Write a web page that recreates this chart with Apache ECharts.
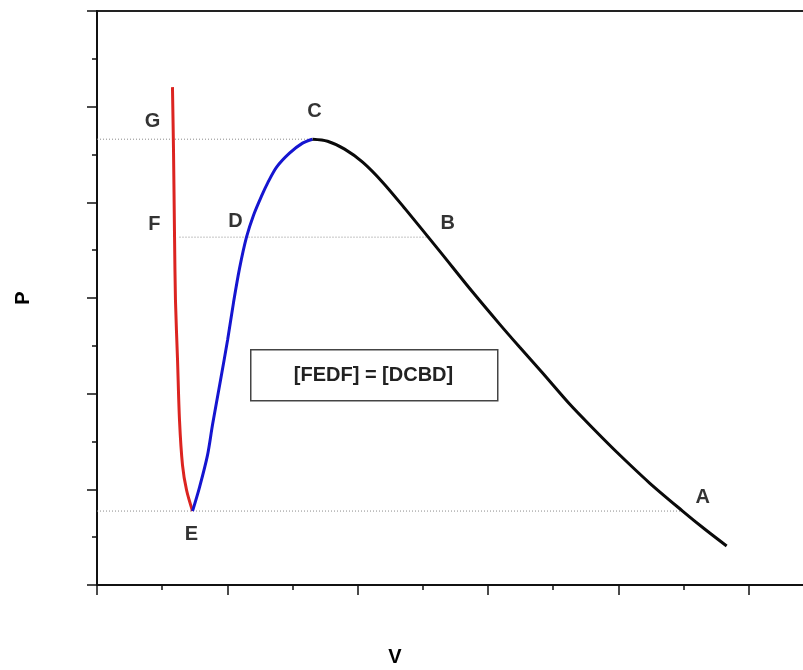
<!DOCTYPE html>
<html>
<head>
<meta charset="utf-8">
<script src="https://cdn.jsdelivr.net/npm/echarts@6/dist/echarts.min.js"></script>
<style>html,body{margin:0;padding:0;background:#fff;overflow:hidden;width:803px;height:670px}#c{width:880px;height:670px}</style>
</head>
<body>
<div id="c"></div>
<script>
// Branch G-F-E (red)
const redBranch = [[0.579,5.204],[0.587,4.545],[0.595,3.636],[0.602,2.978],[0.618,2.351],[0.633,1.724],[0.656,1.254],[0.687,0.993],[0.733,0.773]];
// Branch E-D-C (blue)
const blueBranch = [[0.733,0.773],[0.787,1.024],[0.848,1.358],[0.886,1.672],[0.948,2.142],[1.002,2.560],[1.048,2.957],[1.094,3.312],[1.147,3.636],[1.201,3.866],[1.262,4.065],[1.309,4.201],[1.378,4.368],[1.477,4.514],[1.577,4.619],[1.654,4.660]];
// Branch C-B-A (black)
const blackBranch = [[1.654,4.660],[1.769,4.639],[1.900,4.556],[2.038,4.420],[2.191,4.211],[2.360,3.939],[2.629,3.490],[2.882,3.062],[3.089,2.727],[3.242,2.487],[3.419,2.215],[3.626,1.891],[3.818,1.620],[3.987,1.390],[4.240,1.066],[4.493,0.773],[4.662,0.585],[4.831,0.408]];
// Dotted reference levels
const levelC = [[0,4.660],[1.654,4.660]];
const levelDB = [[0.633,3.636],[2.55,3.636]];
const levelEA = [[0,0.773],[4.493,0.773]];
// Point labels
const pointLabels = [
  {name:'G', value:[0.426,4.848]},
  {name:'C', value:[1.669,4.953]},
  {name:'F', value:[0.441,3.772]},
  {name:'D', value:[1.063,3.804]},
  {name:'B', value:[2.690,3.783]},
  {name:'E', value:[0.725,0.533]},
  {name:'A', value:[4.647,0.920]}
];
const boxText = '[FEDF] = [DCBD]';
const xRange = [0, 6];
const yRange = [0, 6];

const FONT = '"Liberation Sans", Arial, sans-serif';
const axisCommon = {
  type:'value', interval:1,
  axisLine:{show:true, lineStyle:{color:'#111', width:2}},
  axisTick:{show:true, inside:false, length:10, lineStyle:{color:'#111', width:1.5}},
  minorTick:{show:true, splitNumber:2, length:5, lineStyle:{color:'#111', width:1.5}},
  axisLabel:{show:false},
  splitLine:{show:false},
  nameTextStyle:{fontFamily:FONT, fontWeight:'bold', fontSize:20, color:'#000'}
};
const dotted = (d) => ({type:'line', data:d, symbol:'none', silent:true,
  lineStyle:{color:'#8a8a8a', width:1, type:[1,2]}, z:1});

const chart = echarts.init(document.getElementById('c'));
chart.setOption({
  animation:false,
  backgroundColor:'#fff',
  grid:{left:97, top:11, width:782, height:574, outerBoundsMode:'none', containLabel:false,
        show:true, borderColor:'#222', borderWidth:2, backgroundColor:'transparent'},
  xAxis:Object.assign({}, axisCommon, {min:xRange[0], max:xRange[1], name:'V', nameLocation:'middle', nameGap:62,
        nameTextStyle:Object.assign({}, axisCommon.nameTextStyle, {padding:[0,186,0,0]})}),
  yAxis:Object.assign({}, axisCommon, {min:yRange[0], max:yRange[1], name:'P', nameLocation:'middle', nameGap:64, nameRotate:90}),
  series:[
    dotted(levelC), dotted(levelDB), dotted(levelEA),
    {type:'line', data:redBranch, symbol:'none', smooth:0.3, lineStyle:{color:'#dc2420', width:3}, z:3},
    {type:'line', data:blueBranch, symbol:'none', smooth:0.3, lineStyle:{color:'#1515d0', width:3}, z:3},
    {type:'line', data:blackBranch, symbol:'none', smooth:0.3, lineStyle:{color:'#0a0a0a', width:3}, z:3},
    {type:'scatter', data:pointLabels, symbolSize:0, silent:true, z:4,
      label:{show:true, position:'inside', formatter:'{b}', fontFamily:FONT, fontWeight:'bold', fontSize:20, color:'#000', textBorderWidth:0}}
  ],
  graphic:[
    {type:'rect', left:250, top:349, shape:{width:247, height:51}, style:{fill:'#fff', stroke:'#444', lineWidth:1.5}, z:10},
    {type:'text', x:373.5, y:375, style:{text:boxText, fontFamily:FONT, fontWeight:'bold', fontSize:20, fill:'#222', align:'center', verticalAlign:'middle'}, z:11}
  ]
});
</script>
</body>
</html>
